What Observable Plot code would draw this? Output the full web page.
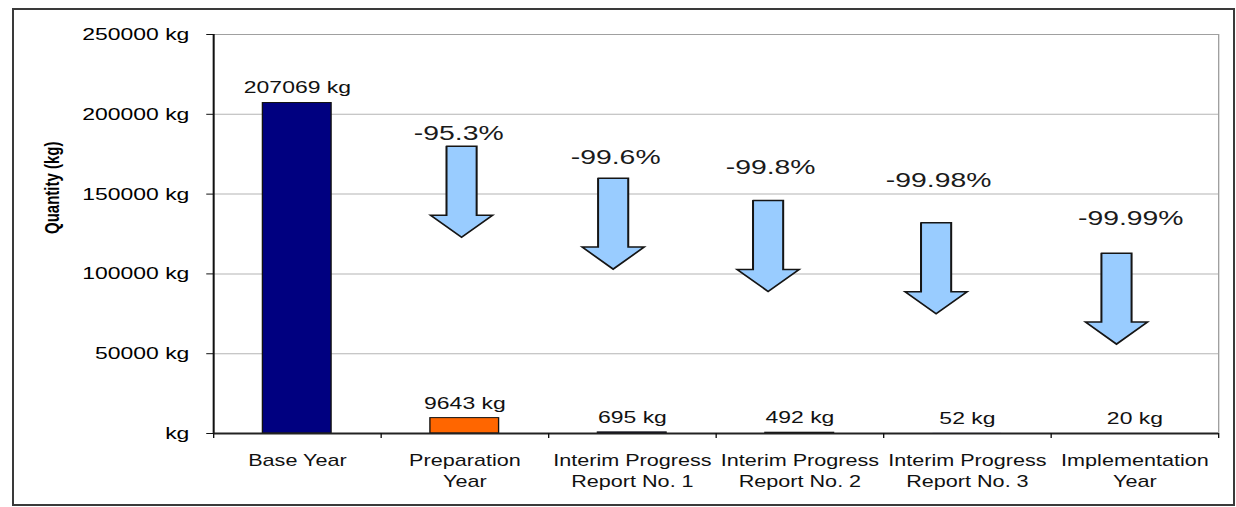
<!DOCTYPE html>
<html>
<head>
<meta charset="utf-8">
<script src="https://cdn.jsdelivr.net/npm/d3@7"></script>
<script src="https://cdn.jsdelivr.net/npm/@observablehq/plot@0.6"></script>
<style>
html, body { margin: 0; padding: 0; background: #fff; }
#wrap { position: relative; width: 1236px; height: 507px; overflow: hidden; }
#border { position: absolute; left: 12px; top: 8px; width: 1219px; height: 494px; border: 2px solid #3a3a3a; pointer-events: none; }
#chart svg { display: block; transform: scaleX(1.35); transform-origin: 0 0; }
</style>
</head>
<body>
<div id="wrap"><div id="chart"></div><div id="border"></div></div>
<script>
// ---- data ----
const categories = ["Base Year", "Preparation Year", "Interim Progress Report No. 1", "Interim Progress Report No. 2", "Interim Progress Report No. 3", "Implementation Year"];
const tickLabels = ["Base Year", "Preparation\nYear", "Interim Progress\nReport No. 1", "Interim Progress\nReport No. 2", "Interim Progress\nReport No. 3", "Implementation\nYear"];
const quantities = [207069, 9643, 695, 492, 52, 20];
const changeLabels = ["-95.3%", "-99.6%", "-99.8%", "-99.98%", "-99.99%"];
const changeCategories = [1, 2, 3, 4, 5];
const yTicks = [0, 50000, 100000, 150000, 200000, 250000];

// ---- annotation layout (position of the block arrows and their labels) ----
const arrowTops = [180000, 160000, 146000, 132000, 113000];
const arrowShift = [-0.02, -0.115, -0.19, -0.187, -0.11];
const labelY = [188000, 173000, 166700, 158500, 134700];
const labelShift = [-0.037, -0.1, -0.175, -0.172, -0.025];

// ---- styles ----
const S = 1.35;               // horizontal stretch of the original picture
const barColors = ["#000080", "#FF6600", "#000080", "#000080", "#000080", "#000080"];
const arrowFill = "#99CCFF";
const barHalf = 0.205, shaftHalf = 0.09, headHalf = 0.185, shaftLen = 43200, headLen = 13800;

const bars = categories.map((c, i) => ({i, category: c, label: tickLabels[i], value: quantities[i], color: barColors[i]}));

const arrows = [];
changeCategories.forEach((ci, k) => {
  const c = ci + arrowShift[k], t = arrowTops[k], sh = t - shaftLen, tip = sh - headLen;
  [[c - shaftHalf, t], [c + shaftHalf, t], [c + shaftHalf, sh], [c + headHalf, sh], [c, tip],
   [c - headHalf, sh], [c - shaftHalf, sh], [c - shaftHalf, t]]
    .forEach(([x, y]) => arrows.push({id: k, x, y}));
});
const changes = changeLabels.map((t, k) => ({text: t, x: changeCategories[k] + labelShift[k], y: labelY[k]}));

const W = 916, H = 507;
const boundaries = d3.range(-0.5, 6, 1);

const chart = Plot.plot({
  width: W,
  height: H,
  marginTop: 34,
  marginBottom: 74,
  marginLeft: 213 / S,
  marginRight: W - 1218 / S,
  style: {fontFamily: "'Liberation Sans', Arial, sans-serif", fontSize: "17px", color: "#000", background: "#fff"},
  x: {type: "linear", domain: [-0.5, 5.5], axis: null},
  y: {domain: [0, 250000], axis: null},
  marks: [
    Plot.gridY(yTicks.filter(v => v > 0 && v < 250000), {stroke: "#b4b4b4", strokeOpacity: 1}),
    Plot.ruleY([250000], {stroke: "#a0a0a0"}),
    Plot.ruleX([5.5], {stroke: "#a0a0a0"}),
    Plot.rectY(bars, {x1: d => d.i - barHalf, x2: d => d.i + barHalf, y1: 0, y2: "value", fill: "color", stroke: d => d.value > 100 ? "#111" : "none", strokeWidth: 1}),
    Plot.ruleX([-0.5], {stroke: "#111", strokeWidth: 1.5}),
    Plot.ruleY([0], {stroke: "#222", strokeWidth: 2}),
    Plot.axisY(yTicks, {tickSize: 5, tickPadding: 13, tickFormat: d => d === 0 ? "kg" : `${d} kg`, fontSize: 17, label: null, stroke: "#111"}),
    Plot.axisX(boundaries, {tickSize: 5, tickFormat: () => "", label: null, stroke: "#111"}),
    Plot.text(bars, {x: "i", text: "label", frameAnchor: "bottom", dy: 18, lineAnchor: "top", lineHeight: 1.3, fontSize: 16, fill: "#111"}),
    Plot.text(bars, {x: "i", y: "value", text: d => `${d.value} kg`, dy: -15, fontSize: 17, fill: "#111"}),
    Plot.line(arrows, {x: "x", y: "y", z: "id", fill: arrowFill, stroke: "#151515", strokeWidth: 1.5, strokeLinejoin: "miter", strokeMiterlimit: 10}),
    Plot.text(changes, {x: "x", y: "y", text: "text", fontSize: 21, fill: "#1a1a1a"}),
    Plot.text(["Quantity (kg)"], {frameAnchor: "left", rotate: -90, dx: 52 / S - 213 / S, fontSize: 15, fontWeight: "bold", fill: "#000"})
  ]
});
document.getElementById("chart").appendChild(chart);
</script>
</body>
</html>
